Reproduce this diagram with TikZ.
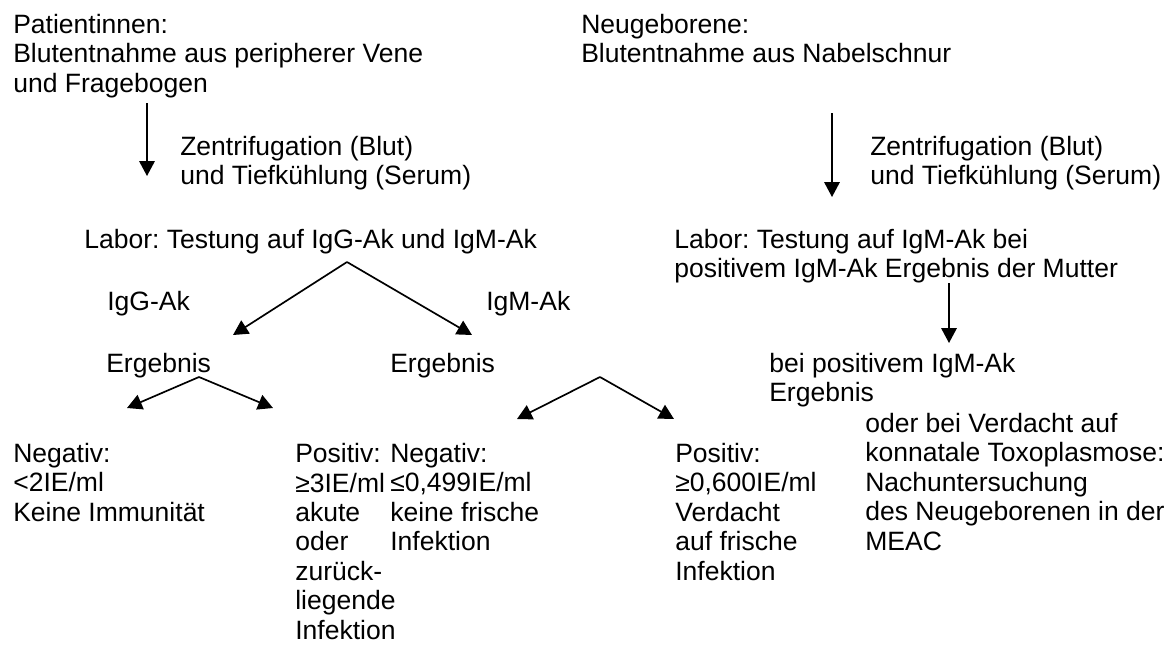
\documentclass[tikz,border=0pt]{standalone}
\usepackage{fontspec}
\setmainfont{Liberation Sans}
\usetikzlibrary{arrows.meta}
\frenchspacing

\begin{document}
\begin{tikzpicture}[x=0.025cm, y=-0.025cm,
		txt/.style={anchor=base west, align=left, inner sep=0pt, font=\fontsize{18.86}{20.9}\selectfont},
		arr/.style={line width=1.2pt, -{Triangle[length=10.6pt, width=11pt]}}]
				\useasboundingbox (0,0) rectangle (1176,647);
				% Patientinnen (anchor = Grundlinie der letzten Zeile)
				\node[txt] (patient) at (13,92) {Patientinnen:\\Blutentnahme aus peripherer Vene\\und Fragebogen};
				\node[txt] (zentA) at (180,184.5) {Zentrifugation (Blut)\\und Tiefkühlung (Serum)};
				\node[txt] (laborA) at (84,248) {Labor: Testung auf IgG-Ak und IgM-Ak};
				\node[txt] (igg) at (107,310) {IgG-Ak};
				\node[txt] (igm) at (486,310) {IgM-Ak};
				\node[txt] (ergA) at (106,372) {Ergebnis};
				\node[txt] (ergB) at (390,372) {Ergebnis};
				\node[txt] (negA) at (13,521) {Negativ:\\<2IE/ml\\Keine Immunität};
				\node[txt] (posA) at (295,639) {Positiv:\\≥3IE/ml\\akute\\oder\\zurück-\\liegende\\Infektion};
				\node[txt] (negB) at (390,550.5) {Negativ:\\≤0,499IE/ml\\keine frische\\Infektion};
				\node[txt] (posB) at (675,580) {Positiv:\\≥0,600IE/ml\\Verdacht\\auf frische\\Infektion};
				% Neugeborene
				\node[txt] (neo) at (581,62.5) {Neugeborene:\\Blutentnahme aus Nabelschnur};
				\node[txt] (zentB) at (870,184.5) {Zentrifugation (Blut)\\und Tiefkühlung (Serum)};
				\node[txt] (laborB) at (674,277.5) {Labor: Testung auf IgM-Ak bei\\positivem IgM-Ak Ergebnis der Mutter};
				\node[txt] (neoIgm) at (769,401.5) {bei positivem IgM-Ak\\Ergebnis};
				\node[txt] (nachunt) at (865,550) {oder bei Verdacht auf\\konnatale Toxoplasmose:\\Nachuntersuchung\\des Neugeborenen in der\\MEAC};
				% Pfeile
				\coordinate (pA) at (147,103);
				\coordinate (pB) at (147,176);
				\coordinate (nA) at (832,113);
				\coordinate (nB) at (832,197);
				\coordinate (lA) at (949,283);
				\coordinate (lB) at (949,343);
				\coordinate (forkA) at (347,262);
				\coordinate (forkB) at (199,377);
				\coordinate (forkC) at (600,377);
				\coordinate (tigg) at (233,335);
				\coordinate (tigm) at (472,335);
				\coordinate (tnegA) at (127,408);
				\coordinate (tposA) at (273,408);
				\coordinate (tnegB) at (517,419);
				\coordinate (tposB) at (674,419);
				\draw[arr] (pA) -- (pB);
				\draw[arr] (nA) -- (nB);
				\draw[arr] (lA) -- (lB);
				\draw[arr] (forkA) -- (tigg);
				\draw[arr] (forkA) -- (tigm);
				\draw[arr] (forkB) -- (tnegA);
				\draw[arr] (forkB) -- (tposA);
				\draw[arr] (forkC) -- (tnegB);
				\draw[arr] (forkC) -- (tposB);
\end{tikzpicture}
\end{document}
